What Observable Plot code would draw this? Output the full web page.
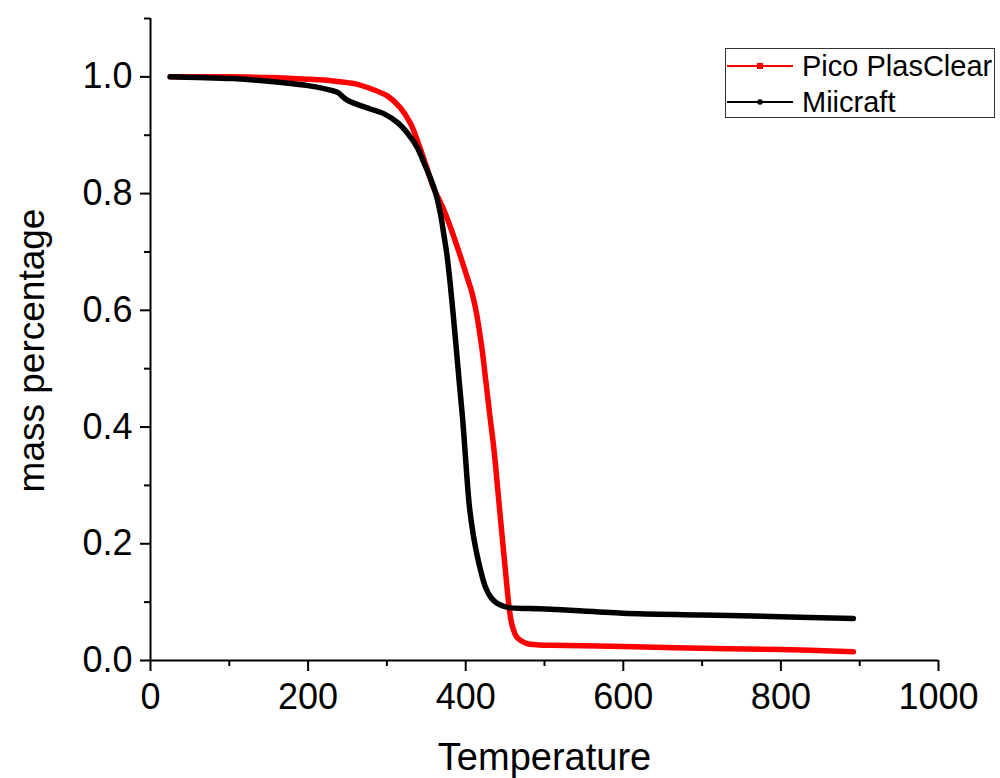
<!DOCTYPE html>
<html>
<head>
<meta charset="utf-8">
<script src="https://cdn.jsdelivr.net/npm/d3@7"></script>
<script src="https://cdn.jsdelivr.net/npm/@observablehq/plot@0.6"></script>
<style>
  html, body { margin: 0; padding: 0; background: #fff; }
  #wrap { position: relative; width: 1000px; height: 778px; font-family: "Liberation Sans", Arial, sans-serif; }
  #legend { position: absolute; left: 725px; top: 48px; width: 270px; height: 70px; border: 1.5px solid #333; box-sizing: border-box; background: #fff; }
</style>
</head>
<body>
<div id="wrap"></div>
<script>
// ---- data ----
const picoTemperature = [25, 100, 150, 200, 232, 260, 279, 301, 317, 330, 340, 349, 359, 371, 381, 391, 402, 408, 413, 417, 421, 425, 431, 436, 440, 444, 448, 452, 455, 459, 465, 478, 490, 508, 600, 700, 800, 892];
const picoMass        = [1.0, 1.0, 0.999, 0.996, 0.993, 0.988, 0.980, 0.967, 0.947, 0.920, 0.886, 0.851, 0.811, 0.776, 0.741, 0.702, 0.656, 0.630, 0.600, 0.568, 0.531, 0.485, 0.416, 0.360, 0.303, 0.245, 0.188, 0.132, 0.092, 0.060, 0.040, 0.029, 0.027, 0.026, 0.024, 0.021, 0.019, 0.015];

const miiTemperature = [25, 60, 105, 169, 200, 232, 238, 245, 251, 279, 296, 314, 327, 339, 346, 355, 362, 368, 372, 376, 380, 384, 388, 392, 396, 399, 402, 405, 410, 415, 419, 425, 432, 440, 453, 482, 508, 600, 700, 800, 892];
const miiMass        = [1.0, 0.999, 0.997, 0.990, 0.985, 0.976, 0.973, 0.965, 0.959, 0.945, 0.937, 0.921, 0.902, 0.878, 0.856, 0.827, 0.800, 0.765, 0.732, 0.697, 0.650, 0.595, 0.535, 0.474, 0.416, 0.362, 0.306, 0.260, 0.212, 0.177, 0.154, 0.126, 0.108, 0.098, 0.091, 0.089, 0.088, 0.081, 0.078, 0.075, 0.072];

const seriesNames = ["Pico PlasClear", "Miicraft"];
const seriesColors = ["#ff0000", "#000000"];

const xMajorTicks = [0, 200, 400, 600, 800, 1000];
const xMinorTicks = [100, 300, 500, 700, 900];
const yMajorTicks = [0.0, 0.2, 0.4, 0.6, 0.8, 1.0];
const yMinorTicks = [0.1, 0.3, 0.5, 0.7, 0.9, 1.1];

const xTitle = "Temperature";
const yTitle = "mass percentage";

// ---- build table ----
const rows = [
  ...picoTemperature.map((t, i) => ({series: seriesNames[0], t, m: picoMass[i]})),
  ...miiTemperature.map((t, i) => ({series: seriesNames[1], t, m: miiMass[i]}))
];

const font = '"Liberation Sans", Arial, sans-serif';

const chart = Plot.plot({
  width: 1000,
  height: 778,
  marginLeft: 150,
  marginRight: 62,
  marginTop: 18,
  marginBottom: 118,
  style: {fontFamily: font, background: "#fff", color: "#000"},
  x: {domain: [0, 1000]},
  y: {domain: [0, 1.1]},
  color: {domain: seriesNames, range: seriesColors},
  marks: [
    Plot.axisX({ticks: xMajorTicks, tickSize: 11, tickPadding: 12, fontSize: 36, tickFormat: d => String(d), label: null, strokeWidth: 2}),
    Plot.axisX({ticks: xMinorTicks, tickSize: 6, text: null, label: null, strokeWidth: 2}),
    Plot.axisY({ticks: yMajorTicks, tickSize: 10, tickPadding: 8, fontSize: 36, tickFormat: d => d.toFixed(1), label: null, strokeWidth: 2}),
    Plot.axisY({ticks: yMinorTicks, tickSize: 6, text: null, label: null, strokeWidth: 2}),
    Plot.ruleY([0], {stroke: "#000", strokeWidth: 2}),
    Plot.ruleX([0], {stroke: "#000", strokeWidth: 2}),
    Plot.line(rows, {x: "t", y: "m", z: "series", stroke: "series", strokeWidth: 5.5, curve: "catmull-rom", strokeLinecap: "round", strokeLinejoin: "round"}),
    Plot.text([xTitle], {frameAnchor: "bottom", dy: 97, fontSize: 38, lineAnchor: "middle", textAnchor: "middle", fill: "#000"}),
    Plot.text([yTitle], {frameAnchor: "left", dx: -118, dy: 11, rotate: -90, fontSize: 37, lineAnchor: "middle", textAnchor: "middle", fill: "#000"})
  ]
});

const wrap = document.getElementById("wrap");
wrap.appendChild(chart);

// ---- legend ----
const legend = document.createElement("div");
legend.id = "legend";
const ns = "http://www.w3.org/2000/svg";
const lsvg = document.createElementNS(ns, "svg");
lsvg.setAttribute("width", 268);
lsvg.setAttribute("height", 68);
lsvg.style.display = "block";
seriesNames.forEach((name, i) => {
  const cy = 17 + i * 36;
  const line = document.createElementNS(ns, "line");
  line.setAttribute("x1", 1); line.setAttribute("x2", 67);
  line.setAttribute("y1", cy); line.setAttribute("y2", cy);
  line.setAttribute("stroke", seriesColors[i]); line.setAttribute("stroke-width", 2);
  lsvg.appendChild(line);
  if (i === 0) {
    const r = document.createElementNS(ns, "rect");
    r.setAttribute("x", 31); r.setAttribute("y", cy - 3); r.setAttribute("width", 6); r.setAttribute("height", 6);
    r.setAttribute("fill", seriesColors[i]);
    lsvg.appendChild(r);
  } else {
    const c = document.createElementNS(ns, "circle");
    c.setAttribute("cx", 34); c.setAttribute("cy", cy); c.setAttribute("r", 2.8);
    c.setAttribute("fill", seriesColors[i]);
    lsvg.appendChild(c);
  }
  const t = document.createElementNS(ns, "text");
  t.setAttribute("x", 76); t.setAttribute("y", cy + 10);
  t.setAttribute("font-size", 29);
  t.setAttribute("font-family", font);
  t.setAttribute("fill", "#000");
  t.textContent = name;
  lsvg.appendChild(t);
});
legend.appendChild(lsvg);
wrap.appendChild(legend);
</script>
</body>
</html>
